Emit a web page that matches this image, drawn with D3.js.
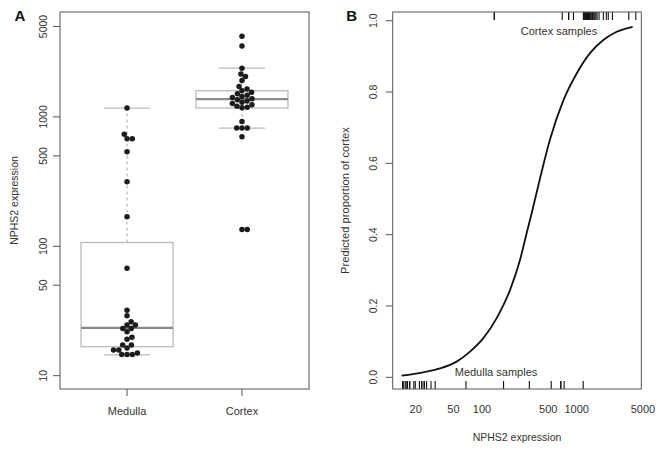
<!DOCTYPE html>
<html><head><meta charset="utf-8">
<script src="https://cdn.jsdelivr.net/npm/d3@7"></script>
<style>body{margin:0;background:#fff}svg{display:block}text{font-family:"Liberation Sans",Arial,Helvetica,sans-serif;fill:#333}</style>
</head><body><svg id="c" width="660" height="453"></svg>
<script>
// ---- data ----
const categories = ["Medulla", "Cortex"];
const medullaValues = [14.6,14.6,14.6,15.0,15.8,15.8,16.4,17.3,17.3,19.1,19.8,21.9,23.2,23.2,24.6,24.6,26.1,29.0,32.1,67.8,169,316,538,679,679,736,1170];
const cortexValues = [135,135,703,820,820,820,923,1175,1190,1210,1240,1270,1300,1330,1360,1380,1410,1440,1470,1510,1550,1590,1640,1720,1910,2050,2150,2380,3540,4200];
const boxLower  = [14.5, 820];
const boxQ1     = [16.75, 1172];
const boxMedian = [23.4, 1374];
const boxQ3     = [107, 1594];
const boxUpper  = [1170, 2380];
const yTicksA = [10, 50, 100, 500, 1000, 5000];
const xTicksB = [20, 50, 100, 500, 1000, 5000];
const yTicksB = [0, 0.2, 0.4, 0.6, 0.8, 1.0];
const curveX = [14.2,24.0,36.1,54.1,74.8,103,143,198,252,296,340,409,522,721,998,1380,1906,2638,3890];
const curveP = [0.0045,0.014,0.025,0.044,0.072,0.109,0.166,0.245,0.329,0.404,0.468,0.557,0.667,0.776,0.852,0.909,0.946,0.969,0.983];

const svg = d3.select("#c");
svg.append("rect").attr("width",660).attr("height",453).attr("fill","#fff");

// ---- Panel A ----
const A = {l:60, r:309, t:12, b:389};
const yA = d3.scaleLog().domain([7.89, 6470]).range([A.b, A.t]);
const xA = d3.scalePoint().domain(categories).range([A.l, A.r]).padding(0.583);
const step = xA.step();
const gA = svg.append("g");

// boxplots
const boxCol = "#bbbbbb";
categories.forEach((c, i) => {
  const cx = xA(c), bw = step * 0.8, cw = bw / 2;
  gA.append("line").attr("x1",cx).attr("x2",cx).attr("y1",yA(boxQ3[i])).attr("y2",yA(boxUpper[i]))
    .attr("stroke","#aaa").attr("stroke-dasharray","3,3");
  gA.append("line").attr("x1",cx).attr("x2",cx).attr("y1",yA(boxQ1[i])).attr("y2",yA(boxLower[i]))
    .attr("stroke","#aaa").attr("stroke-dasharray","3,3");
  [boxUpper[i], boxLower[i]].forEach(v => gA.append("line").attr("x1",cx-cw/2).attr("x2",cx+cw/2)
    .attr("y1",yA(v)).attr("y2",yA(v)).attr("stroke",boxCol).attr("stroke-width",1.2));
  gA.append("rect").attr("x",cx-bw/2).attr("width",bw).attr("y",yA(boxQ3[i]))
    .attr("height",yA(boxQ1[i])-yA(boxQ3[i])).attr("fill","none").attr("stroke",boxCol).attr("stroke-width",1.3);
  gA.append("line").attr("x1",cx-bw/2).attr("x2",cx+bw/2).attr("y1",yA(boxMedian[i])).attr("y2",yA(boxMedian[i]))
    .attr("stroke","#8a8a8a").attr("stroke-width",2.2);
});

// beeswarm
function swarm(vals, cx, ys, d) {
  const pts = vals.map(v => ({v, y: ys(v)})).sort((a,b) => a.v - b.v);
  const placed = [];
  for (const p of pts) {
    const cands = [0];
    for (const q of placed) {
      const dy = Math.abs(q.y - p.y);
      if (dy < d) { const dx = Math.sqrt(d*d - dy*dy); cands.push(q.off + dx, q.off - dx); }
    }
    cands.sort((a,b) => Math.abs(a) - Math.abs(b) || b - a);
    for (const c of cands) {
      if (placed.every(q => (q.off-c)**2 + (q.y-p.y)**2 >= d*d - 0.01)) { p.off = c; break; }
    }
    placed.push(p);
  }
  return placed.map(p => ({x: cx + p.off, y: p.y}));
}
[medullaValues, cortexValues].forEach((vals, i) => {
  const pts = swarm(vals, xA(categories[i]), yA, 5.3);
  gA.selectAll(null).data(pts).enter().append("circle")
    .attr("cx", d => d.x).attr("cy", d => d.y).attr("r", 2.75).attr("fill", "#1c1c1c");
});

// frame & axes A
gA.append("rect").attr("x",A.l).attr("y",A.t).attr("width",A.r-A.l).attr("height",A.b-A.t)
  .attr("fill","none").attr("stroke","#555").attr("stroke-width",1);
yTicksA.forEach(v => {
  gA.append("line").attr("x1",A.l-7).attr("x2",A.l).attr("y1",yA(v)).attr("y2",yA(v)).attr("stroke","#555");
  gA.append("text").attr("transform",`translate(43,${yA(v)}) rotate(-90)`).attr("text-anchor","middle")
    .attr("dominant-baseline","central").attr("font-size",10.5).text(v);
});
categories.forEach(c => {
  gA.append("line").attr("x1",xA(c)).attr("x2",xA(c)).attr("y1",A.b).attr("y2",A.b+7).attr("stroke","#555");
  gA.append("text").attr("x",xA(c)).attr("y",414.5).attr("text-anchor","middle").attr("font-size",11).text(c);
});
gA.append("text").attr("transform",`translate(17.5,${(A.t+A.b)/2}) rotate(-90)`).attr("text-anchor","middle")
  .attr("font-size",10.5).text("NPHS2 expression");
gA.append("text").attr("x",20).attr("y",20.5).attr("text-anchor","middle").attr("font-size",15)
  .attr("font-weight","bold").style("fill","#111").text("A");

// ---- Panel B ----
const B = {l:392.7, r:641.3, t:12, b:389};
const xB = d3.scaleLog().domain([11.44, 4797]).range([B.l, B.r]);
const yB = d3.scaleLinear().domain([-0.0328, 1.0244]).range([B.b, B.t]);
const gB = svg.append("g");

gB.append("path").datum(curveX.map((x,i) => [x, curveP[i]]))
  .attr("d", d3.line().x(d => xB(d[0])).y(d => yB(d[1])).curve(d3.curveMonotoneX))
  .attr("fill","none").attr("stroke","#111").attr("stroke-width",1.8);

// rugs
gB.selectAll(null).data(medullaValues).enter().append("line")
  .attr("x1", d => xB(d)).attr("x2", d => xB(d)).attr("y1", B.b).attr("y2", B.b - 8)
  .attr("stroke","#111").attr("stroke-width",1.1);
gB.selectAll(null).data(cortexValues).enter().append("line")
  .attr("x1", d => xB(d)).attr("x2", d => xB(d)).attr("y1", B.t).attr("y2", B.t + 8)
  .attr("stroke","#111").attr("stroke-width",1.1);

gB.append("rect").attr("x",B.l).attr("y",B.t).attr("width",B.r-B.l).attr("height",B.b-B.t)
  .attr("fill","none").attr("stroke","#555").attr("stroke-width",1);
yTicksB.forEach(v => {
  gB.append("line").attr("x1",B.l-7).attr("x2",B.l).attr("y1",yB(v)).attr("y2",yB(v)).attr("stroke","#555");
  gB.append("text").attr("transform",`translate(373.3,${yB(v)}) rotate(-90)`).attr("text-anchor","middle")
    .attr("dominant-baseline","central").attr("font-size",10.5).text(d3.format(".1f")(v));
});
xTicksB.forEach(v => {
  gB.append("text").attr("x",xB(v)).attr("y",412.5).attr("text-anchor","middle").attr("font-size",11).text(v);
});
gB.append("text").attr("x",(B.l+B.r)/2).attr("y",441).attr("text-anchor","middle").attr("font-size",10.5).text("NPHS2 expression");
gB.append("text").attr("transform",`translate(349,${(B.t+B.b)/2}) rotate(-90)`).attr("text-anchor","middle")
  .attr("font-size",11.2).text("Predicted proportion of cortex");
gB.append("text").attr("x",559).attr("y",35).attr("text-anchor","middle").attr("font-size",11).text("Cortex samples");
gB.append("text").attr("x",496).attr("y",375.5).attr("text-anchor","middle").attr("font-size",11).text("Medulla samples");
gB.append("text").attr("x",351.7).attr("y",20.5).attr("text-anchor","middle").attr("font-size",15)
  .attr("font-weight","bold").style("fill","#111").text("B");
</script></body></html>
